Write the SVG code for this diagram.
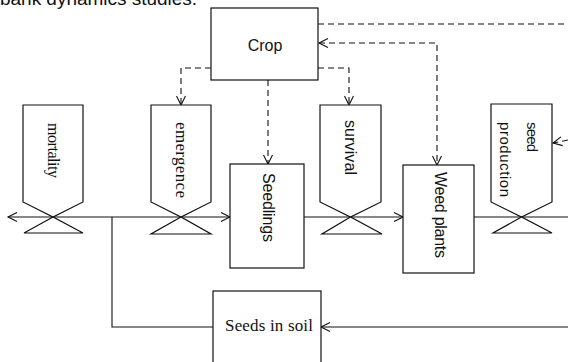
<svg xmlns="http://www.w3.org/2000/svg" width="568" height="362" viewBox="0 0 568 362">
<style>
.shape{fill:#fff;stroke:#111;stroke-width:1.2}
.line{fill:none;stroke:#111;stroke-width:1.1}
.dash{fill:none;stroke:#111;stroke-width:1.1;stroke-dasharray:6 4}
.serif{font-family:"Liberation Serif","Times New Roman",serif;fill:#111}
.sans{font-family:"Liberation Sans",Arial,sans-serif;fill:#111}
</style>
<defs>
<marker id="arr" markerUnits="userSpaceOnUse" markerWidth="12" markerHeight="12" refX="10" refY="6" orient="auto-start-reverse" viewBox="0 0 12 12">
<path d="M1,1.5 L10,6 L1,10.5" fill="none" stroke="#111" stroke-width="1.1"/>
</marker>
</defs>
<rect width="568" height="362" fill="#fff"/>
<text class="sans" x="0" y="5" font-size="19" textLength="197">bank dynamics studies.</text>

<g id="connectors">
<path class="line" d="M112,217 H8" marker-end="url(#arr)"/>
<path class="line" d="M112,217 H230" marker-end="url(#arr)"/>
<path class="line" d="M213,327 H112 V217"/>
<path class="line" d="M304,217 H403" marker-end="url(#arr)"/>
<path class="line" d="M474,217 H568"/>
<path class="line" d="M568,327 H321" marker-end="url(#arr)"/>
<path class="dash" d="M211,68 H181 V105" marker-end="url(#arr)"/>
<path class="dash" d="M268,80 V164" marker-end="url(#arr)"/>
<path class="dash" d="M318,68 H349 V105" marker-end="url(#arr)"/>
<path class="dash" d="M319,43 H437 V165" marker-start="url(#arr)" marker-end="url(#arr)"/>
<path class="dash" d="M318,24 H568"/>
<path class="dash" d="M568,140 L553,143" marker-end="url(#arr)"/>
</g>

<g id="crop">
<rect class="shape" x="211" y="8" width="107" height="72"/>
<text class="sans" x="265" y="51" font-size="16" text-anchor="middle">Crop</text>
</g>

<g id="mortality">
<path class="shape" d="M23,105 H83 V202 L53,217 L23,202 Z"/>
<path class="shape" d="M53,217 L24,233 H83 Z"/>
<text class="serif" transform="translate(53,150.5) rotate(90)" font-size="16" text-anchor="middle" dominant-baseline="central" textLength="55">mortality</text>
</g>

<g id="emergence">
<path class="shape" d="M151,105 H211 V202 L181,217 L151,202 Z"/>
<path class="shape" d="M181,217 L151,234 H211 Z"/>
<text class="serif" transform="translate(181,160) rotate(90)" font-size="17" text-anchor="middle" dominant-baseline="central" textLength="76">emergence</text>
</g>

<g id="seedlings">
<rect class="shape" x="230" y="164" width="74" height="104"/>
<text class="sans" transform="translate(268,207.5) rotate(90)" font-size="16" text-anchor="middle" dominant-baseline="central" textLength="69">Seedlings</text>
</g>

<g id="survival">
<path class="shape" d="M320,105 H381 V202 L350.5,217 L320,202 Z"/>
<path class="shape" d="M350.5,217 L322,234 H382 Z"/>
<text class="sans" transform="translate(350,147.5) rotate(90)" font-size="16" text-anchor="middle" dominant-baseline="central" textLength="55">survival</text>
</g>

<g id="weed-plants">
<rect class="shape" x="403" y="165" width="71" height="108"/>
<text class="sans" transform="translate(440,215) rotate(90)" font-size="16" text-anchor="middle" dominant-baseline="central" textLength="86">Weed plants</text>
</g>

<g id="seed-production">
<path class="shape" d="M491,104 H552 V202 L521.5,217 L491,202 Z"/>
<path class="shape" d="M521.5,217 L493,233 H552 Z"/>
<text class="sans" transform="translate(532,137) rotate(90)" font-size="15" text-anchor="middle" dominant-baseline="central" textLength="30">seed</text>
<text class="sans" transform="translate(505,159.5) rotate(90)" font-size="15" text-anchor="middle" dominant-baseline="central" textLength="75">production</text>
</g>

<g id="seeds-in-soil">
<rect class="shape" x="213" y="291" width="108" height="80"/>
<text class="serif" x="269" y="331" font-size="17" text-anchor="middle" textLength="88">Seeds in soil</text>
</g>
</svg>
